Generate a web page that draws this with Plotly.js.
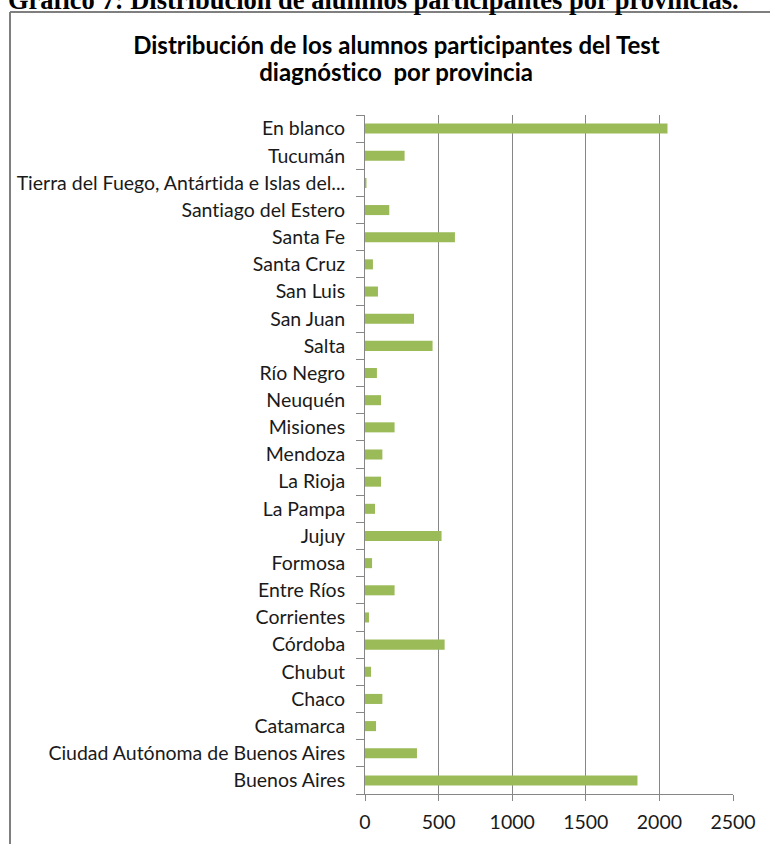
<!DOCTYPE html>
<html>
<head>
<meta charset="utf-8">
<script src="https://cdn.plot.ly/plotly-3.0.1.min.js"></script>
<style>
html,body{margin:0;padding:0;background:#fff;}
#chart{width:770px;height:844px;}
#chart text{font-variant-ligatures:none;font-feature-settings:"liga" 0, "clig" 0;}
</style>
</head>
<body>
<div id="chart"></div>
<script>
const categories = [
  "Buenos Aires",
  "Ciudad Autónoma de Buenos Aires",
  "Catamarca",
  "Chaco",
  "Chubut",
  "Córdoba",
  "Corrientes",
  "Entre Ríos",
  "Formosa",
  "Jujuy",
  "La Pampa",
  "La Rioja",
  "Mendoza",
  "Misiones",
  "Neuquén",
  "Río Negro",
  "Salta",
  "San Juan",
  "San Luis",
  "Santa Cruz",
  "Santa Fe",
  "Santiago del Estero",
  "Tierra del Fuego, Antártida e Islas del...",
  "Tucumán",
  "En blanco"
];
const alumnos = [
  1851, 353, 75, 118, 41, 541, 27, 201, 48, 520,
  68, 109, 118, 201, 109, 81, 459, 333, 88, 54,
  611, 165, 10, 269, 2055
];
const xTicks = [0, 500, 1000, 1500, 2000, 2500];
const titleLines = [
  'Distribución de los alumnos participantes del Test',
  'diagnóstico&nbsp; por provincia'
];
const caption = 'Gráfico 7: Distribución de alumnos participantes por provincias.';

const W = 770, H = 844;
const L = 365, R = 733, T = 115, B = 794;
const px = x => (x - L) / (R - L);
const py = y => (B - y) / (B - T);

const data = [{
  type: 'bar',
  orientation: 'h',
  y: categories,
  x: alumnos,
  marker: {color: '#9BBB59', line: {width: 0}},
  hoverinfo: 'x+y'
}];

const tickFont = {family: 'Lato, sans-serif', size: 19.5, color: '#1a1a1a'};
const titleFont = {family: 'Lato, sans-serif', size: 24, color: '#000000', weight: 'bold'};

const layout = {
  width: W, height: H,
  margin: {l: L, r: W - R, t: T, b: H - B, pad: 0},
  paper_bgcolor: '#ffffff',
  plot_bgcolor: '#ffffff',
  showlegend: false,
  bargap: 0.63,
  font: tickFont,
  xaxis: {
    range: [0, 2500],
    tickvals: xTicks,
    ticktext: xTicks.map(String),
    showgrid: true, gridcolor: '#868686', gridwidth: 1,
    zeroline: false,
    showline: true, linecolor: '#868686', linewidth: 1,
    ticks: 'outside', ticklen: 6, tickcolor: '#868686',
    ticklabelstandoff: 5,
    tickfont: tickFont,
    fixedrange: true
  },
  yaxis: {
    type: 'category',
    showgrid: false, zeroline: false,
    showline: true, linecolor: '#868686', linewidth: 1,
    ticks: 'outside', ticklen: 8, tickcolor: '#868686',
    tickson: 'boundaries',
    ticklabelstandoff: 15,
    tickfont: tickFont,
    automargin: false,
    fixedrange: true
  },
  shapes: [
    {type: 'line', xref: 'paper', yref: 'paper', x0: px(10), x1: px(10), y0: py(12), y1: py(H + 5), line: {color: '#7f7f7f', width: 2}},
    {type: 'line', xref: 'paper', yref: 'paper', x0: px(10), x1: px(W + 5), y0: py(12), y1: py(12), line: {color: '#7f7f7f', width: 2}}
  ],
  annotations: [
    {
      text: caption,
      xref: 'paper', yref: 'paper',
      x: px(6), xanchor: 'left',
      y: py(0), yanchor: 'middle',
      showarrow: false,
      font: {family: '"Liberation Serif", "Times New Roman", serif', size: 26.5, color: '#000000', weight: 'bold'}
    },
    {
      text: titleLines[0],
      xref: 'paper', yref: 'paper',
      x: px(396), xanchor: 'center',
      y: py(45), yanchor: 'middle',
      showarrow: false, font: titleFont
    },
    {
      text: titleLines[1],
      xref: 'paper', yref: 'paper',
      x: px(396), xanchor: 'center',
      y: py(71), yanchor: 'middle',
      showarrow: false, font: titleFont
    }
  ]
};

Plotly.newPlot('chart', data, layout, {displayModeBar: false, staticPlot: true});
</script>
</body>
</html>
